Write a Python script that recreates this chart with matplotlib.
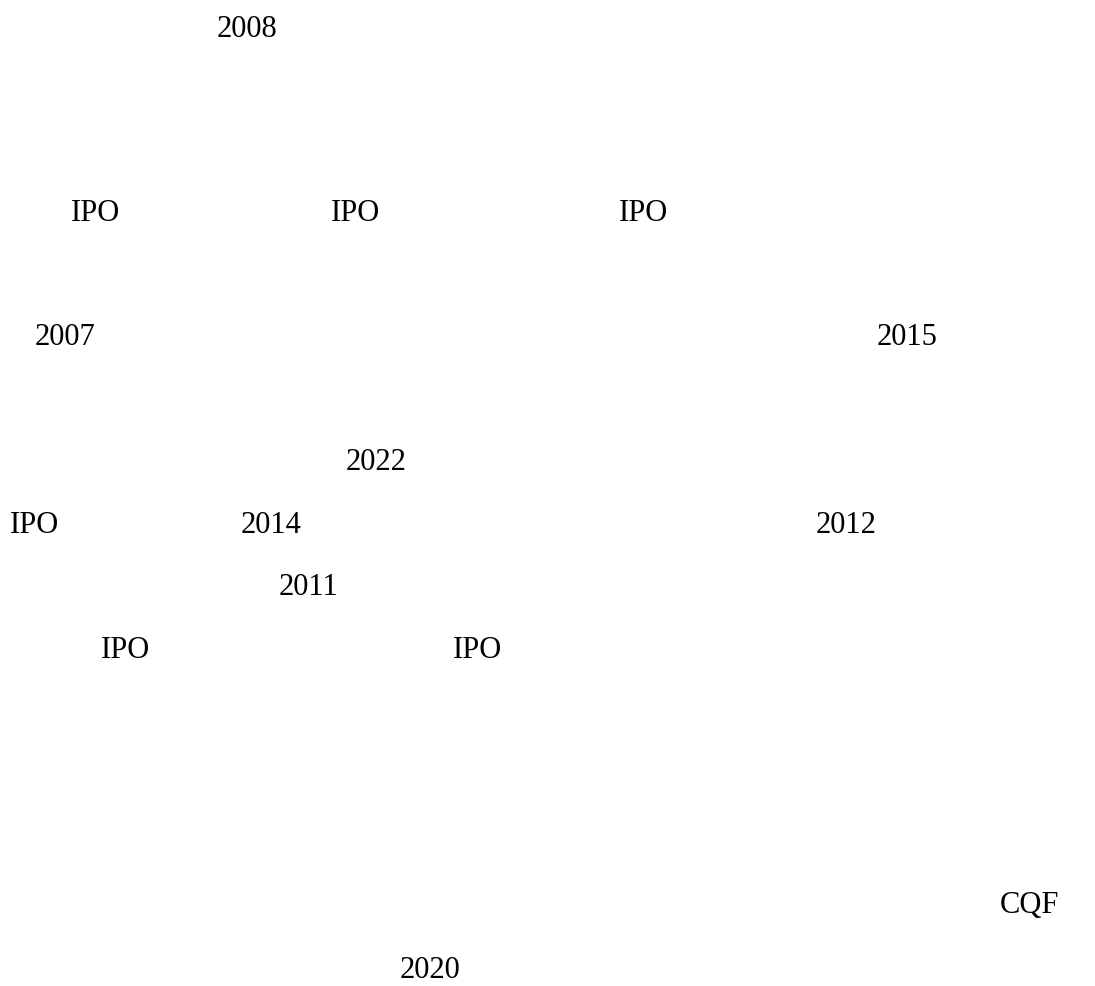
import matplotlib
matplotlib.use("Agg")
import matplotlib.pyplot as plt

# ---------------------------
# labels left on the page (pixel centre x, baseline y)
# ---------------------------

labels = ["2008", "IPO", "IPO", "IPO", "2007", "2015", "2022", "IPO",
          "2014", "2012", "2011", "IPO", "IPO", "CQF", "2020"]
label_x = [247.5, 95.5, 356, 643.5, 64.5, 907.5, 376, 34.5,
           271, 846, 308, 125.5, 477.5, 1029, 430]
label_y = [37, 221, 221, 221, 345, 345, 470, 533,
           533, 533, 595, 658, 658, 913, 978]

plt.rcParams["font.family"] = ["Liberation Serif", "DejaVu Serif"]

fig = plt.figure(figsize=(10.95, 9.86), dpi=100)
ax = fig.add_axes([0, 0, 1, 1])
ax.set_xlim(0, 1095)
ax.set_ylim(986, 0)
ax.axis("off")

for text, x, y in zip(labels, label_x, label_y):
    ax.text(x, y, text, ha="center", va="baseline", fontsize=22, color="black")

fig.savefig("out.png", dpi=100, facecolor="white")
